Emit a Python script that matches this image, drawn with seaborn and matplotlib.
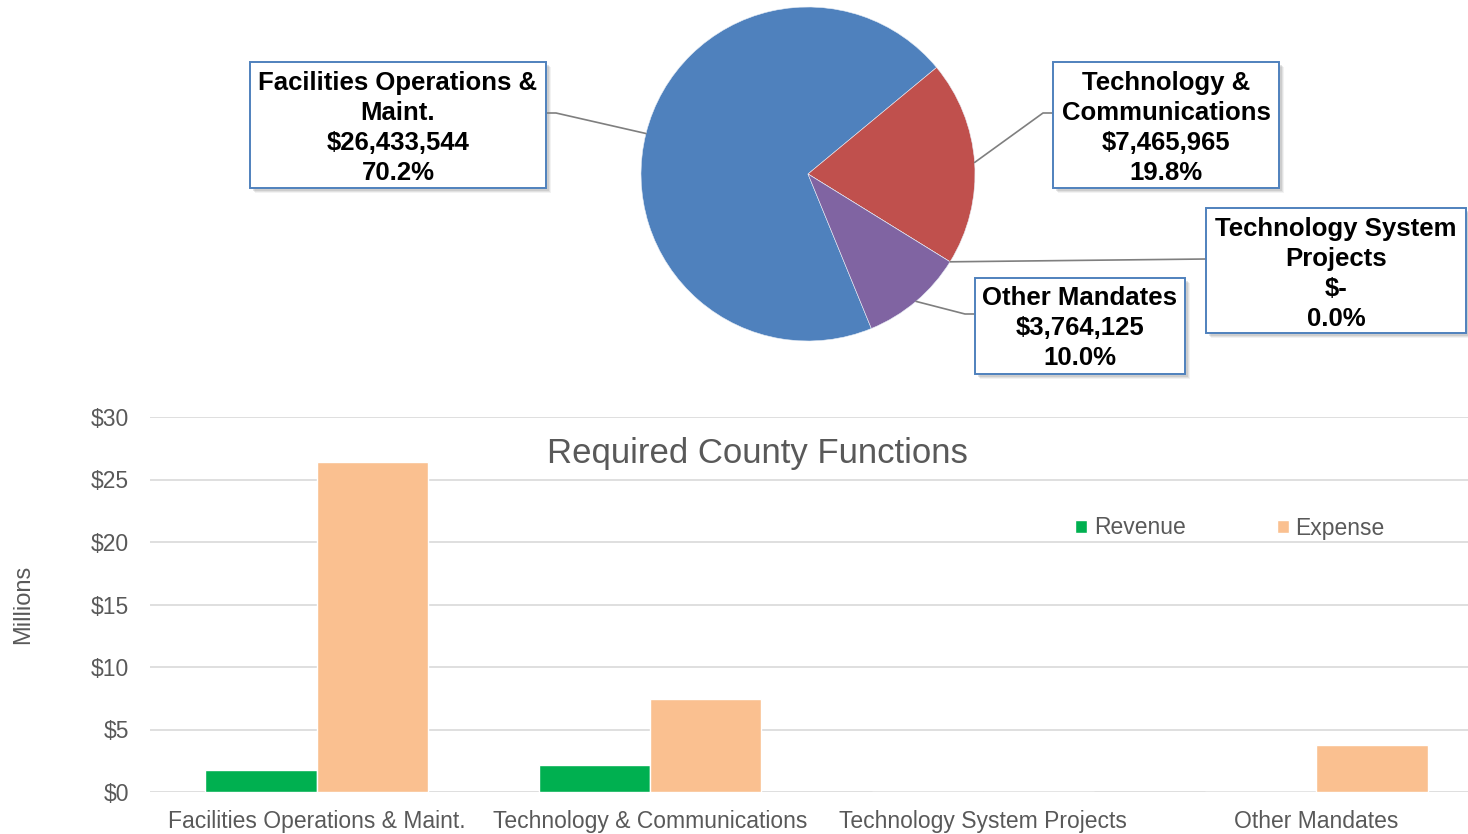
import numpy as np
import pandas as pd
import matplotlib
matplotlib.use("Agg")
import matplotlib.pyplot as plt
from matplotlib.patches import Rectangle
from matplotlib.lines import Line2D
import seaborn as sns

# ---------------- data ----------------
categories = ["Facilities Operations & Maint.", "Technology & Communications",
              "Technology System Projects", "Other Mandates"]
revenue_m = [1.75, 2.15, 0.0, 0.0]          # millions
expense_m = [26.43, 7.47, 0.0, 3.76]         # millions
pie_dollars = [26433544, 7465965, 0, 3764125]
pie_label_names = ["Facilities Operations &\nMaint.", "Technology &\nCommunications",
                   "Technology System\nProjects", "Other Mandates"]
pie_dollar_text = ["$26,433,544", "$7,465,965", "$-", "$3,764,125"]
y_ticks = [0, 5, 10, 15, 20, 25, 30]
series_names = ["Revenue", "Expense"]

pie_colors = ["#4F81BD", "#C0504D", "#9BBB59", "#8064A2"]
bar_colors = ["#00B050", "#FAC090"]
text_gray = "#595959"

sns.set_theme(style="white")
plt.rcParams["font.family"] = ["Liberation Sans", "DejaVu Sans"]

W, H = 1468, 834
fig = plt.figure(figsize=(W / 100, H / 100), dpi=100)


def fx(x):
    return x / W


def fy(y):
    return 1 - y / H


# ---------------- pie ----------------
cx, cy, r = 808, 174, 167
ax_pie = fig.add_axes([fx(cx - r), fy(cy + r), 2 * r / W, 2 * r / H])
wedges, _ = ax_pie.pie(pie_dollars, colors=pie_colors, startangle=-67.7,
                       counterclock=False, radius=1,
                       wedgeprops=dict(edgecolor="#e8eef6", linewidth=0.4))
ax_pie.set_xlim(-1, 1)
ax_pie.set_ylim(-1, 1)
ax_pie.set_aspect("equal")
ax_pie.axis("off")

total = sum(pie_dollars)
pcts = [v / total * 100 for v in pie_dollars]

# label boxes (pixel layout: x0, y0(top), x1, y1(bottom))
boxes = [(250, 62, 546, 188), (1053, 62, 1279, 188),
         (1206, 208, 1466, 333), (975, 278, 1185, 374)]
text_dy = [3, 3, 3.5, 2]
# leader elbow points (pixels)
elbows = [[(556, 113), (546, 113)],
          [(1043, 113), (1053, 113)],
          [(1206, 259)],
          [(965, 314), (975, 314)]]


def wedge_point(w):
    mid = np.deg2rad((w.theta1 + w.theta2) / 2)
    disp = ax_pie.transData.transform((np.cos(mid), np.sin(mid)))
    return fig.transFigure.inverted().transform(disp)


for i, w in enumerate(wedges):
    p0 = wedge_point(w)
    xs = [p0[0]] + [fx(p[0]) for p in elbows[i]]
    ys = [p0[1]] + [fy(p[1]) for p in elbows[i]]
    fig.add_artist(Line2D(xs, ys, transform=fig.transFigure, color="#7F7F7F",
                          lw=1.2, zorder=3))

for i, (x0, y0, x1, y1) in enumerate(boxes):
    # shadow
    for k, a in [(5, 0.10), (4, 0.15), (3, 0.2)]:
        fig.add_artist(Rectangle((fx(x0 + k), fy(y1 + k)), (x1 - x0) / W, (y1 - y0) / H,
                                 transform=fig.transFigure, facecolor="#808080",
                                 edgecolor="none", alpha=a, zorder=4))
    fig.add_artist(Rectangle((fx(x0), fy(y1)), (x1 - x0) / W, (y1 - y0) / H,
                             transform=fig.transFigure, facecolor="white",
                             edgecolor="#4F81BD", lw=1.4, zorder=5))
    txt = f"{pie_label_names[i]}\n{pie_dollar_text[i]}\n{pcts[i]:.1f}%"
    fig.text(fx((x0 + x1) / 2), fy((y0 + y1) / 2 + text_dy[i]), txt, ha="center",
             va="center", multialignment="center", fontsize=18.5, fontweight="bold",
             color="black", linespacing=1.33, zorder=6)

# ---------------- bar chart ----------------
ax_left, ax_right = 150, 1483
ax = fig.add_axes([fx(ax_left), fy(792), (ax_right - ax_left) / W, 375 / H])
df = pd.DataFrame({
    "Category": categories * 2,
    "Series": [series_names[0]] * len(categories) + [series_names[1]] * len(categories),
    "Value": revenue_m + expense_m,
})
sns.barplot(data=df, x="Category", y="Value", hue="Series", palette=bar_colors,
            width=0.667, saturation=1, ax=ax, order=categories,
            hue_order=series_names, errorbar=None)

ax.set_ylim(0, 30)
ax.set_xlim(-0.5, 3.5)
ax.set_yticks(y_ticks)
ax.set_yticklabels([f"${t}" for t in y_ticks])
ax.yaxis.grid(True, color="#D9D9D9", lw=1.2)
ax.set_axisbelow(True)
for s in ax.spines.values():
    s.set_visible(False)
ax.tick_params(axis="x", length=0, pad=13, labelsize=16.5, labelcolor=text_gray)
ax.tick_params(axis="y", length=0, pad=15, labelsize=16.5, labelcolor=text_gray)
ax.set_xlabel("")
ax.set_ylabel("Millions", fontsize=17, color=text_gray)
ax.yaxis.set_label_coords(-0.087, 0.5)

ax_w = ax_right - ax_left
ax.text((757 - ax_left) / ax_w, (792 - 453) / 375, "Required County Functions",
        transform=ax.transAxes, ha="center", va="center", fontsize=25, color=text_gray)

handles, labels = ax.get_legend_handles_labels()
ax.legend(handles, labels, ncol=2, loc="center",
          bbox_to_anchor=((1230 - ax_left) / ax_w, (792 - 528) / 375),
          frameon=False, handlelength=0.5, handleheight=0.5, handletextpad=0.3,
          columnspacing=4.0, fontsize=16.5, labelcolor=text_gray)

fig.savefig("out.png", dpi=100)
